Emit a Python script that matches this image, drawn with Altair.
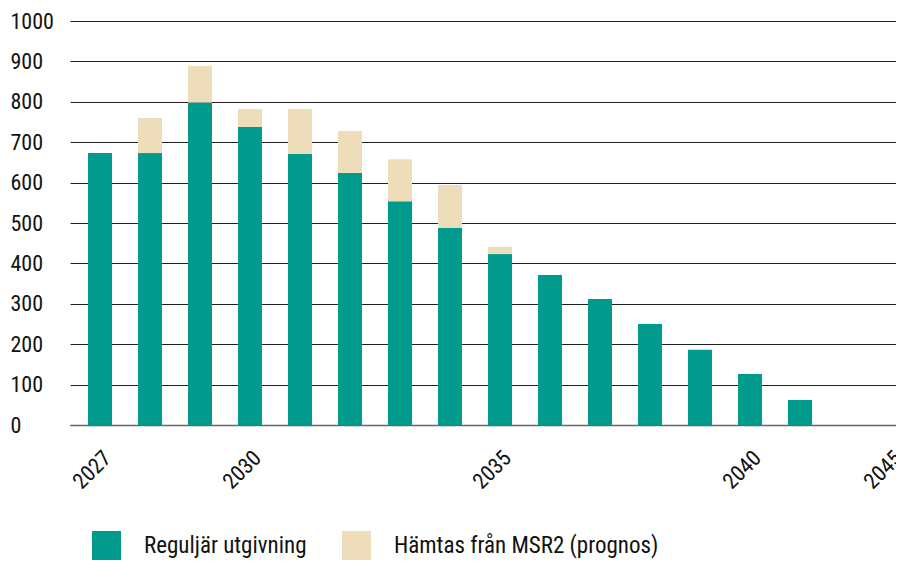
import altair as alt
import pandas as pd

years = list(range(2027, 2042))
regular = [673, 673, 798, 738, 671, 624, 554, 488, 423, 371, 312, 250, 186, 126, 62]
msr2 = [0, 87, 91, 44, 111, 104, 104, 106, 18, 0, 0, 0, 0, 0, 0]
series_names = ["Reguljär utgivning", "Hämtas från MSR2 (prognos)"]
series_colors = ["#009B8D", "#EDDDBA"]
x_tick_years = [2027, 2030, 2035, 2040]
x_last_label = "2045"
y_ticks = list(range(0, 1001, 100))

rows = []
for i, yr in enumerate(years):
    rows.append({"year": yr, "serie": series_names[0], "value": regular[i], "ord": 0})
    rows.append({"year": yr, "serie": series_names[1], "value": msr2[i], "ord": 1})
df = pd.DataFrame(rows)

x_min, x_max = 2026.5, 2042.82
font = "Liberation Sans Narrow, Roboto Condensed, Roboto"

chart = alt.Chart(df).mark_bar(size=24).encode(
    x=alt.X("year:Q",
            scale=alt.Scale(domain=[x_min, x_max], nice=False, zero=False),
            axis=alt.Axis(values=x_tick_years + [x_max], labelExpr=f"datum.value > 2041 ? '{x_last_label}' : datum.label",
                          format="d", title=None, grid=False, ticks=False, labelAngle=-45,
                          labelAlign="right", labelBaseline="top", labelPadding=22,
                          labelFont=font, labelFontSize=22, labelColor="#111",
                          labelOverlap=False, labelFlush=False, labelBound=False,
                          domainColor="#666", domainWidth=1.5)),
    y=alt.Y("value:Q", stack="zero",
            scale=alt.Scale(domain=[0, 1000], nice=False),
            axis=alt.Axis(values=y_ticks, format="d", title=None, grid=True, gridColor="#222", gridWidth=1,
                          ticks=False, domain=False, labelAlign="left", labelPadding=60,
                          labelFont=font, labelFontSize=22, labelColor="#111")),
    color=alt.Color("serie:N", scale=alt.Scale(domain=series_names, range=series_colors),
                    legend=alt.Legend(title=None, orient="none", direction="horizontal",
                                      legendX=22, legendY=510, symbolType="square",
                                      symbolSize=840, symbolStrokeWidth=0, symbolOpacity=1,
                                      labelFont=font, labelFontSize=23, labelColor="#111",
                                      labelOffset=23, columnPadding=35, labelLimit=400)),
    order=alt.Order("ord:Q", sort="ascending"),
).properties(
    width=826, height=404,
    autosize=alt.AutoSizeParams(type="none"),
    padding={"left": 62, "top": 13, "right": 0, "bottom": 136},
).configure_view(stroke=None)

chart.save("out.html", embed_options={"renderer": "svg", "actions": False})
